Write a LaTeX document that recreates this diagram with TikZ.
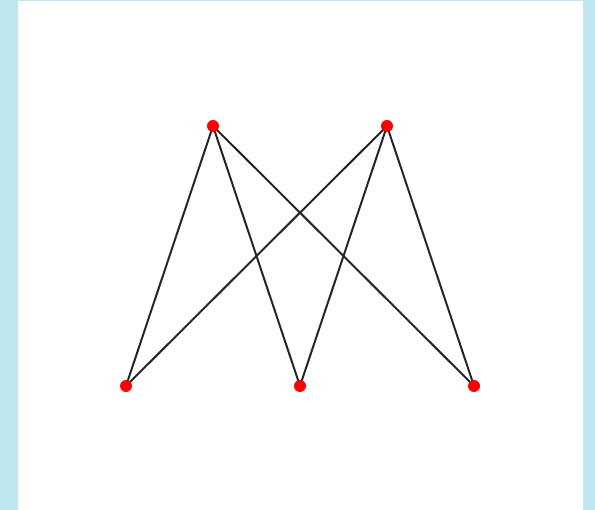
\documentclass[tikz,border=0pt]{standalone}
\definecolor{framebl}{RGB}{189,230,238}
\begin{document}
\begin{tikzpicture}[x=1pt,y=-1pt,
  vdot/.style={circle,fill=red,inner sep=0pt,minimum size=12pt},
  edge/.style={draw=black!85,line width=2pt}]
\fill[framebl] (0,0) rectangle (595,510);
\fill[white] (18,1) rectangle (583,510);
\useasboundingbox (0,0) rectangle (595,510);
\coordinate (a) at (213,126);
\coordinate (b) at (387,126);
\coordinate (c) at (126,386);
\coordinate (d) at (300,386);
\coordinate (e) at (474,386);
\foreach \u in {a,b}{\foreach \v in {c,d,e}{\draw[edge] (\u) -- (\v);}}
\node[vdot] (na) at (a) {};
\node[vdot] (nb) at (b) {};
\node[vdot] (nc) at (c) {};
\node[vdot] (nd) at (d) {};
\node[vdot] (ne) at (e) {};
\end{tikzpicture}
\end{document}
